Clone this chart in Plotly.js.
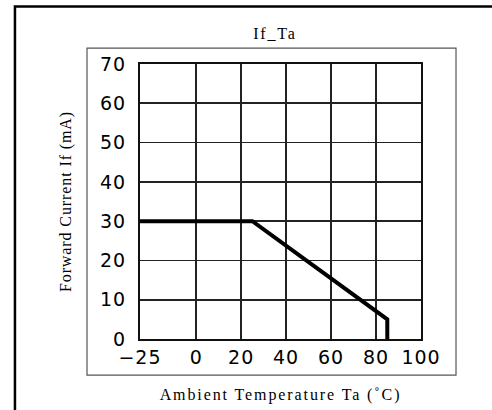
<!DOCTYPE html>
<html>
<head>
<meta charset="utf-8">
<script src="https://cdn.plot.ly/plotly-3.0.1.min.js"></script>
<style>
html,body{margin:0;padding:0;background:#fff;}
#chart{width:492px;height:410px;}
.g-xtitle text{letter-spacing:1.9px;}
.g-ytitle text{letter-spacing:0.9px;}
.g-gtitle text{letter-spacing:1.8px;}
.xtick text,.ytick text{letter-spacing:1px;}
</style>
</head>
<body>
<div id="chart"></div>
<script>
// Data
const temperature = [-25, 25, 85, 85];
const forwardCurrent = [30, 30, 5, 0];
const xTickValues = [-25, 0, 20, 40, 60, 80, 100];
const xTickLabels = ['\u221225', '0', '20', '40', '60', '80', '100'];
const yTickValues = [0, 10, 20, 30, 40, 50, 60, 70];

const trace = {
  x: temperature,
  y: forwardCurrent,
  type: 'scatter',
  mode: 'lines',
  line: {color: '#000', width: 4},
  hoverinfo: 'skip',
  showlegend: false
};

const serif = 'Liberation Serif, Times New Roman, serif';
const sans = 'DejaVu Sans, Arial, sans-serif';

const layout = {
  width: 492,
  height: 410,
  margin: {l: 140, r: 71, t: 64, b: 71},
  paper_bgcolor: '#fff',
  plot_bgcolor: '#fff',
  showlegend: false,
  title: {
    text: 'If_Ta',
    font: {family: serif, size: 16, color: '#000'},
    xref: 'paper', x: 0.48, xanchor: 'center',
    yref: 'container', y: 0.918, yanchor: 'middle'
  },
  xaxis: {
    range: [-25, 100],
    tickmode: 'array',
    tickvals: xTickValues,
    ticktext: xTickLabels,
    ticks: 'outside', ticklen: 0.5, tickcolor: 'rgba(0,0,0,0)',
    tickfont: {family: sans, size: 19, color: '#000'},
    showgrid: true, gridcolor: '#222', gridwidth: 1.6,
    zeroline: false,
    showline: true, mirror: true, linecolor: '#111', linewidth: 2,
    title: {text: 'Ambient Temperature Ta (\u02DAC)', font: {family: serif, size: 16, color: '#000'}, standoff: 22},
    fixedrange: true
  },
  yaxis: {
    range: [0, 70],
    tickmode: 'array',
    tickvals: yTickValues,
    ticks: 'outside', ticklen: 8, tickcolor: 'rgba(0,0,0,0)',
    tickfont: {family: sans, size: 19, color: '#000'},
    showgrid: true, gridcolor: '#222', gridwidth: 1.6,
    zeroline: false,
    showline: true, mirror: true, linecolor: '#111', linewidth: 2,
    title: {text: 'Forward Current If (mA)', font: {family: serif, size: 16, color: '#000'}, standoff: 24},
    fixedrange: true
  },
  shapes: [
    // outer frame (thick, continues past the right and bottom edges)
    {type: 'rect', xref: 'paper', yref: 'paper', x0: -0.445, x1: 2, y0: -2, y1: 1.209,
     line: {color: '#000', width: 2.5}, fillcolor: 'rgba(0,0,0,0)', layer: 'below'},
    // inner frame (thin)
    {type: 'rect', xref: 'paper', yref: 'paper', x0: -0.1886, x1: 1.1246, y0: -0.131, y1: 1.058,
     line: {color: '#555', width: 1.2}, fillcolor: 'rgba(0,0,0,0)', layer: 'below'}
  ]
};

Plotly.newPlot('chart', [trace], layout, {displayModeBar: false, staticPlot: true});
</script>
</body>
</html>
